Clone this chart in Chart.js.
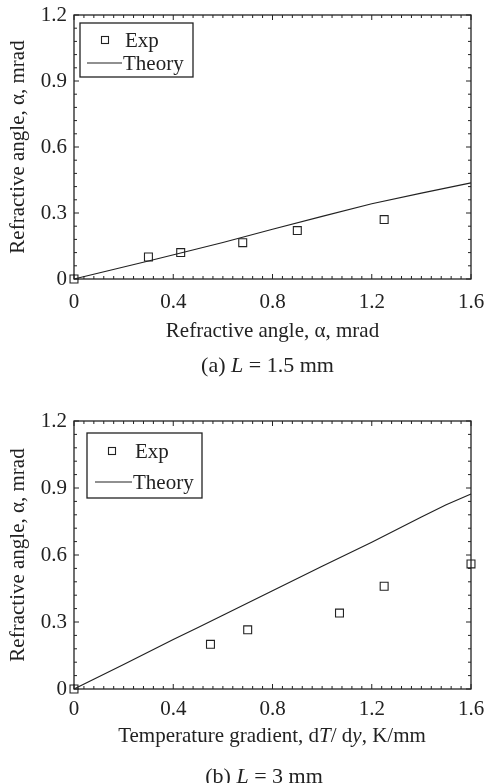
<!DOCTYPE html>
<html><head><meta charset="utf-8">
<script src="https://cdn.jsdelivr.net/npm/chart.js@4.4.0/dist/chart.umd.min.js"></script>
<style>
body{margin:0;background:#fff;width:486px;height:783px;overflow:hidden;position:relative;font-family:"Liberation Serif","Times New Roman",serif;color:#222}
canvas{position:absolute;left:0}
.t{position:absolute;transform:translateX(-50%);font-size:21px;line-height:24px;white-space:nowrap;text-align:center}
.c{font-size:22px}
</style></head><body>
<canvas id="ca" width="486" height="320" style="top:0px"></canvas>
<canvas id="cb" width="486" height="320" style="top:405px"></canvas>
<div class="t" style="left:272.5px;top:318px">Refractive angle, α, mrad</div>
<div class="t c" style="left:267.5px;top:353px">(a) <i>L</i> = 1.5 mm</div>
<div class="t" style="left:272px;top:723px">Temperature gradient, d<i>T</i>/ d<i>y</i>, K/mm</div>
<div class="t c" style="left:264px;top:764px">(b) <i>L</i> = 3 mm</div>
<script>
// ---- data ----
const xTickValues = [0, 0.4, 0.8, 1.2, 1.6];
const yTickValues = [0, 0.3, 0.6, 0.9, 1.2];
const seriesNames = ['Exp', 'Theory'];
const yAxisTitle = 'Refractive angle, α, mrad';

const expA_x = [0, 0.30, 0.43, 0.68, 0.90, 1.25];
const expA_y = [0, 0.10, 0.12, 0.165, 0.22, 0.27];
const theoryA_x = [0, 0.3, 0.43, 0.6, 0.8, 1.0, 1.2, 1.4, 1.6];
const theoryA_y = [0, 0.082, 0.118, 0.166, 0.226, 0.285, 0.342, 0.39, 0.437];

const expB_x = [0, 0.55, 0.70, 1.07, 1.25, 1.60];
const expB_y = [0, 0.20, 0.265, 0.34, 0.46, 0.56];
const theoryB_x = [0, 0.2, 0.4, 0.5, 0.6, 0.8, 1.0, 1.2, 1.4, 1.5, 1.6];
const theoryB_y = [0, 0.11, 0.222, 0.275, 0.33, 0.44, 0.55, 0.657, 0.77, 0.825, 0.873];

const INK = '#222';
const FONT = '"Liberation Serif", "Times New Roman", serif';

function pts(xs, ys) { return xs.map((x, i) => ({ x: x, y: ys[i] })); }
function fmt(v) { return String(Math.round(v * 10) / 10); }

const boxTicks = {
  id: 'boxTicks',
  afterDraw(chart, args, opts) {
    const ctx = chart.ctx, a = chart.chartArea, xs = chart.scales.x, ys = chart.scales.y;
    ctx.save();
    ctx.strokeStyle = INK; ctx.lineWidth = 1.3;
    ctx.strokeRect(a.left, a.top, a.right - a.left, a.bottom - a.top);
    ctx.lineWidth = 1;
    const seg = (x1, y1, x2, y2) => { ctx.beginPath(); ctx.moveTo(x1, y1); ctx.lineTo(x2, y2); ctx.stroke(); };
    const MJ = 5, MN = 3;
    const xt = xs.ticks.map(t => t.value);
    xt.forEach((v, i) => {
      const p = xs.getPixelForValue(v);
      seg(p, a.bottom, p, a.bottom - MJ); seg(p, a.top, p, a.top + MJ);
      if (i < xt.length - 1) {
        for (let k = 1; k < opts.xMinor; k++) {
          const q = xs.getPixelForValue(v + (xt[i + 1] - v) * k / opts.xMinor);
          seg(q, a.bottom, q, a.bottom - MN); seg(q, a.top, q, a.top + MN);
        }
      }
    });
    const yt = ys.ticks.map(t => t.value);
    yt.forEach((v, i) => {
      const p = ys.getPixelForValue(v);
      seg(a.left, p, a.left + MJ, p); seg(a.right, p, a.right - MJ, p);
      if (i < yt.length - 1) {
        for (let k = 1; k < opts.yMinor; k++) {
          const q = ys.getPixelForValue(v + (yt[i + 1] - v) * k / opts.yMinor);
          seg(a.left, q, a.left + MN, q); seg(a.right, q, a.right - MN, q);
        }
      }
    });
    ctx.restore();
  }
};

const boxLegend = {
  id: 'boxLegend',
  afterDraw(chart, args, o) {
    const ctx = chart.ctx, a = chart.chartArea;
    const L = a.left, T = a.top;
    const ds = chart.data.datasets;
    ctx.save();
    ctx.fillStyle = '#fff'; ctx.strokeStyle = INK; ctx.lineWidth = 1.3;
    ctx.fillRect(L + o.bx, T + o.by, o.bw, o.bh);
    ctx.strokeRect(L + o.bx, T + o.by, o.bw, o.bh);
    ctx.lineWidth = 1.1;
    const s = 7;
    ctx.strokeRect(L + o.mx - s / 2, T + o.r1 - s / 2, s, s);
    ctx.lineWidth = 1.2;
    ctx.beginPath(); ctx.moveTo(L + o.l1, T + o.r2); ctx.lineTo(L + o.l2, T + o.r2); ctx.stroke();
    ctx.fillStyle = INK; ctx.font = '21px ' + FONT; ctx.textBaseline = 'middle'; ctx.textAlign = 'left';
    ctx.fillText(ds[0].label, L + o.t1, T + o.r1 + 1);
    ctx.fillText(ds[1].label, L + o.t2, T + o.r2 + 1);
    ctx.restore();
  }
};

function makeChart(id, ex, ey, tx, ty, padTop, plotBottom, tickPad, legendOpts) {
  const H = 320;
  return new Chart(document.getElementById(id), {
    type: 'scatter',
    data: {
      datasets: [
        { label: seriesNames[0], data: pts(ex, ey), showLine: false, pointStyle: 'rect',
          pointRadius: 5.6, pointHoverRadius: 5.6, pointBorderWidth: 1.1, pointBorderColor: INK,
          pointBackgroundColor: 'rgba(0,0,0,0)', clip: false },
        { label: seriesNames[1], data: pts(tx, ty), showLine: true, pointRadius: 0,
          borderColor: INK, borderWidth: 1.2, tension: 0, clip: false }
      ]
    },
    options: {
      responsive: false, animation: false, devicePixelRatio: 1,
      layout: { padding: { top: padTop, right: 15, left: 0, bottom: 0 } },
      plugins: { legend: { display: false }, tooltip: { enabled: false },
        boxTicks: { xMinor: 10, yMinor: 5 }, boxLegend: legendOpts },
      scales: {
        x: { type: 'linear', min: 0, max: 1.6,
          afterBuildTicks: s => { s.ticks = xTickValues.map(v => ({ value: v })); },
          afterFit: s => { s.height = H - plotBottom; s.paddingLeft = 0; s.paddingRight = 0; },
          grid: { display: false, drawTicks: false }, border: { display: false },
          ticks: { color: INK, font: { family: FONT, size: 21 }, padding: tickPad, maxRotation: 0, callback: v => fmt(v) } },
        y: { type: 'linear', min: 0, max: 1.2,
          afterBuildTicks: s => { s.ticks = yTickValues.map(v => ({ value: v })); },
          afterFit: s => { s.width = 74; s.paddingTop = 0; s.paddingBottom = 0; },
          grid: { display: false, drawTicks: false }, border: { display: false },
          title: { display: true, text: yAxisTitle, color: INK, font: { family: FONT, size: 21 }, padding: { top: 6, bottom: 0 } },
          ticks: { color: INK, font: { family: FONT, size: 21 }, padding: 7, callback: v => fmt(v) } }
      }
    },
    plugins: [boxTicks, boxLegend]
  });
}

makeChart('ca', expA_x, expA_y, theoryA_x, theoryA_y, 15, 279, 11,
  { bx: 6, by: 8, bw: 113, bh: 54, r1: 25, r2: 48, mx: 31, t1: 51, l1: 13, l2: 48, t2: 49 });
makeChart('cb', expB_x, expB_y, theoryB_x, theoryB_y, 16, 284, 8,
  { bx: 13, by: 12, bw: 115, bh: 65, r1: 30, r2: 61, mx: 38, t1: 61, l1: 21, l2: 58, t2: 59 });
</script>
</body></html>
